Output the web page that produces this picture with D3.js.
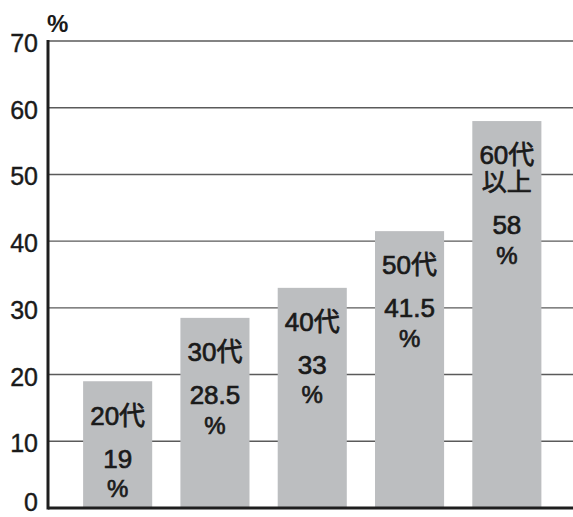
<!DOCTYPE html>
<html>
<head>
<meta charset="utf-8">
<script src="https://cdn.jsdelivr.net/npm/d3@7"></script>
<style>
  html, body { margin: 0; padding: 0; background: #fff; }
  svg { display: block; }
  text { font-family: "Liberation Sans", Arial, "Noto Sans CJK JP", sans-serif; fill: #1a1a1a; }
</style>
</head>
<body>
<svg id="chart" width="573" height="517"></svg>
<script>
// data
const categories = ["20代", "30代", "40代", "50代", "60代以上"];
const categoryLines = [["20代"], ["30代"], ["40代"], ["50代"], ["60代", "以上"]];
const values = [19, 28.5, 33, 41.5, 58];
const yTicks = [0, 10, 20, 30, 40, 50, 60, 70];
const unitLabel = "%";

const svg = d3.select("#chart");
const width = 573;

// scales
const y = d3.scaleLinear().domain([0, 70]).range([508, 41]);
const x = d3
  .scaleBand()
  .domain(categories)
  .range([69, 555.5])
  .paddingInner(0.29)
  .paddingOuter(0.145);

const axisX = 48;

// gridlines
svg
  .append("g")
  .selectAll("line")
  .data(yTicks.filter((d) => d > 0))
  .join("line")
  .attr("x1", axisX)
  .attr("x2", width)
  .attr("y1", (d) => y(d))
  .attr("y2", (d) => y(d))
  .attr("stroke", "#5a5a5a")
  .attr("stroke-width", 1.4);

// bars
svg
  .append("g")
  .selectAll("rect")
  .data(values)
  .join("rect")
  .attr("x", (d, i) => x(categories[i]))
  .attr("y", (d) => y(d))
  .attr("width", x.bandwidth())
  .attr("height", (d) => y(0) - y(d))
  .attr("fill", "#bcbec0");

// baseline + y axis line
svg
  .append("line")
  .attr("x1", axisX)
  .attr("x2", width)
  .attr("y1", y(0))
  .attr("y2", y(0))
  .attr("stroke", "#1e1e1e")
  .attr("stroke-width", 3);
svg
  .append("line")
  .attr("x1", axisX)
  .attr("x2", axisX)
  .attr("y1", y(70) - 1)
  .attr("y2", y(0) + 1.5)
  .attr("stroke", "#1e1e1e")
  .attr("stroke-width", 3);

// y tick labels (the 0 sits at the bottom edge, nudged up to stay inside)
svg
  .append("g")
  .selectAll("text")
  .data(yTicks)
  .join("text")
  .attr("x", 38)
  .attr("y", (d) => (d === 0 ? y(d) - 6 : y(d) + 2))
  .attr("dy", "0.36em")
  .attr("text-anchor", "end")
  .attr("font-size", 25)
  .attr("stroke", "#1a1a1a")
  .attr("stroke-width", 0.4)
  .text((d) => d);

// unit
svg
  .append("text")
  .attr("x", 47)
  .attr("y", 32)
  .attr("font-size", 24)
  .attr("font-weight", "bold")
  .text(unitLabel);

// labels inside bars
values.forEach((v, i) => {
  const cx = x(categories[i]) + x.bandwidth() / 2;
  const top = y(v);
  const g = svg
    .append("g")
    .attr("text-anchor", "middle")
    .attr("stroke", "#1a1a1a")
    .attr("stroke-width", 0.7);
  const lines = categoryLines[i];
  lines.forEach((t, j) => {
    g.append("text")
      .attr("x", cx)
      .attr("y", top + 34 + j * 27)
      .attr("dy", "0.36em")
      .attr("font-size", j === 0 ? 26 : 25)
      .text(t);
  });
  const vy = top + 34 + (lines.length - 1) * 27 + 43;
  g.append("text")
    .attr("x", cx)
    .attr("y", vy)
    .attr("dy", "0.36em")
    .attr("font-size", 26)
    .text(v);
  g.append("text")
    .attr("x", cx)
    .attr("y", vy + 30)
    .attr("dy", "0.36em")
    .attr("font-size", 24)
    .text("%");
});
</script>
</body>
</html>
